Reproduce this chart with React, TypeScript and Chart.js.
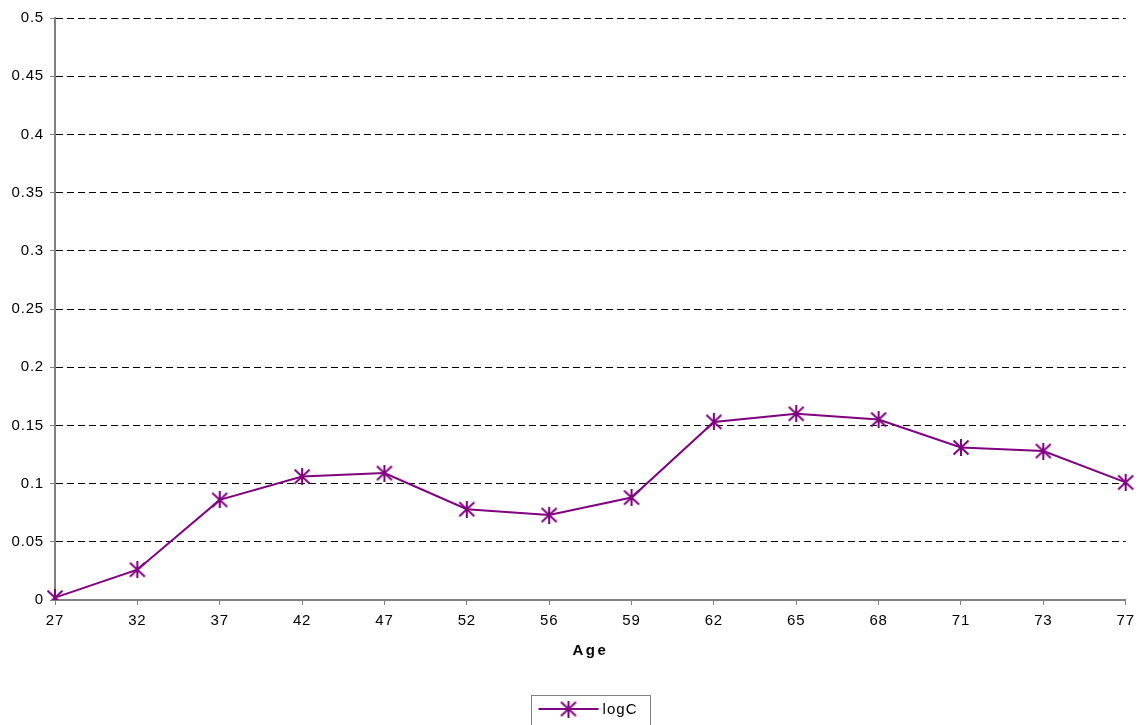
import React, { useEffect, useRef } from 'react';
import { Chart, registerables } from 'chart.js';

Chart.register(...registerables);

// ---- data ----
const ages: string[] = ['27', '32', '37', '42', '47', '52', '56', '59', '62', '65', '68', '71', '73', '77'];
const logC: number[] = [0.002, 0.026, 0.086, 0.106, 0.109, 0.078, 0.073, 0.088, 0.153, 0.160, 0.155, 0.131, 0.128, 0.101];
const seriesName = 'logC';
const xAxisTitle = 'Age';
const yMin = 0;
const yMax = 0.5;
const yStep = 0.05;

const PURPLE = '#800080';
const FONT = '"Liberation Sans", Arial, sans-serif';

function makeStar(): HTMLCanvasElement {
  const c = document.createElement('canvas');
  c.width = 18;
  c.height = 17;
  const g = c.getContext('2d')!;
  g.strokeStyle = PURPLE;
  g.lineWidth = 2;
  g.beginPath();
  g.moveTo(9, 0);
  g.lineTo(9, 17);
  g.moveTo(1.5, 1.5);
  g.lineTo(16.5, 15.5);
  g.moveTo(16.5, 1.5);
  g.lineTo(1.5, 15.5);
  g.stroke();
  return c;
}

export default function App() {
  const ref = useRef<HTMLCanvasElement | null>(null);

  useEffect(() => {
    if (!ref.current) return;
    const star = makeStar();

    const decor = {
      id: 'decor',
      beforeDraw(chart: any) {
        chart.ctx.letterSpacing = '0.8px';
      },
      afterDraw(chart: any) {
        const ctx = chart.ctx as CanvasRenderingContext2D;
        const ca = chart.chartArea;
        const cx = (ca.left + ca.right) / 2;
        ctx.save();
        // axis title
        ctx.letterSpacing = '2.5px';
        ctx.font = `bold 15px ${FONT}`;
        ctx.fillStyle = '#000';
        ctx.textAlign = 'center';
        ctx.textBaseline = 'middle';
        ctx.fillText(xAxisTitle, cx, ca.bottom + 51);
        // legend
        ctx.letterSpacing = '1.1px';
        const boxW = 119;
        const bx = Math.round(cx - boxW / 2) + 0.5;
        const by = ca.bottom + 95.5;
        ctx.strokeStyle = '#808080';
        ctx.lineWidth = 1;
        ctx.strokeRect(bx, by, boxW, 60);
        const ly = by + 13.5;
        ctx.strokeStyle = PURPLE;
        ctx.lineWidth = 2;
        ctx.beginPath();
        ctx.moveTo(bx + 7, ly);
        ctx.lineTo(bx + 67, ly);
        ctx.stroke();
        ctx.drawImage(star, bx + 37 - star.width / 2, ly - star.height / 2);
        ctx.font = `15px ${FONT}`;
        ctx.fillStyle = '#000';
        ctx.textAlign = 'left';
        ctx.fillText(seriesName, bx + 71, ly + 1);
        ctx.restore();
      },
    };

    const chart = new Chart(ref.current, {
      type: 'line',
      data: {
        labels: ages,
        datasets: [
          {
            label: seriesName,
            data: logC,
            borderColor: PURPLE,
            backgroundColor: PURPLE,
            borderWidth: 2,
            pointStyle: star as any,
            pointRadius: 8,
            tension: 0,
            fill: false,
          },
        ],
      },
      options: {
        responsive: false,
        animation: false,
        devicePixelRatio: 1,
        layout: { padding: { left: 0, right: 15, top: 18, bottom: 105 } },
        plugins: {
          legend: { display: false },
          tooltip: { enabled: false },
        },
        scales: {
          x: {
            offset: false,
            grid: {
              drawOnChartArea: false,
              drawTicks: true,
              tickLength: 5,
              tickColor: '#808080',
            },
            border: { color: '#808080', width: 2 },
            ticks: {
              color: '#000',
              font: { family: FONT, size: 15 },
              padding: 7,
              maxRotation: 0,
              autoSkip: false,
            },
            afterFit(scale: any) {
              scale.height = 40;
            },
          },
          y: {
            min: yMin,
            max: yMax,
            grid: {
              color: '#000',
              lineWidth: 1,
              drawTicks: true,
              tickLength: 5,
              tickColor: '#808080',
              tickBorderDash: [],
            },
            border: { color: '#808080', width: 2, dash: [7, 4] },
            ticks: {
              stepSize: yStep,
              color: '#000',
              font: { family: FONT, size: 15 },
              padding: 6,
              callback: (v: any) => String(Number(Number(v).toFixed(2))),
            },
            afterFit(scale: any) {
              scale.width = 55;
            },
          },
        },
      },
      plugins: [decor],
    });
    return () => chart.destroy();
  }, []);

  return (
    <div style={{ position: 'absolute', left: 0, top: 0, width: 1141, height: 745 }}>
      <canvas ref={ref} width={1141} height={745} style={{ display: 'block' }} />
    </div>
  );
}
